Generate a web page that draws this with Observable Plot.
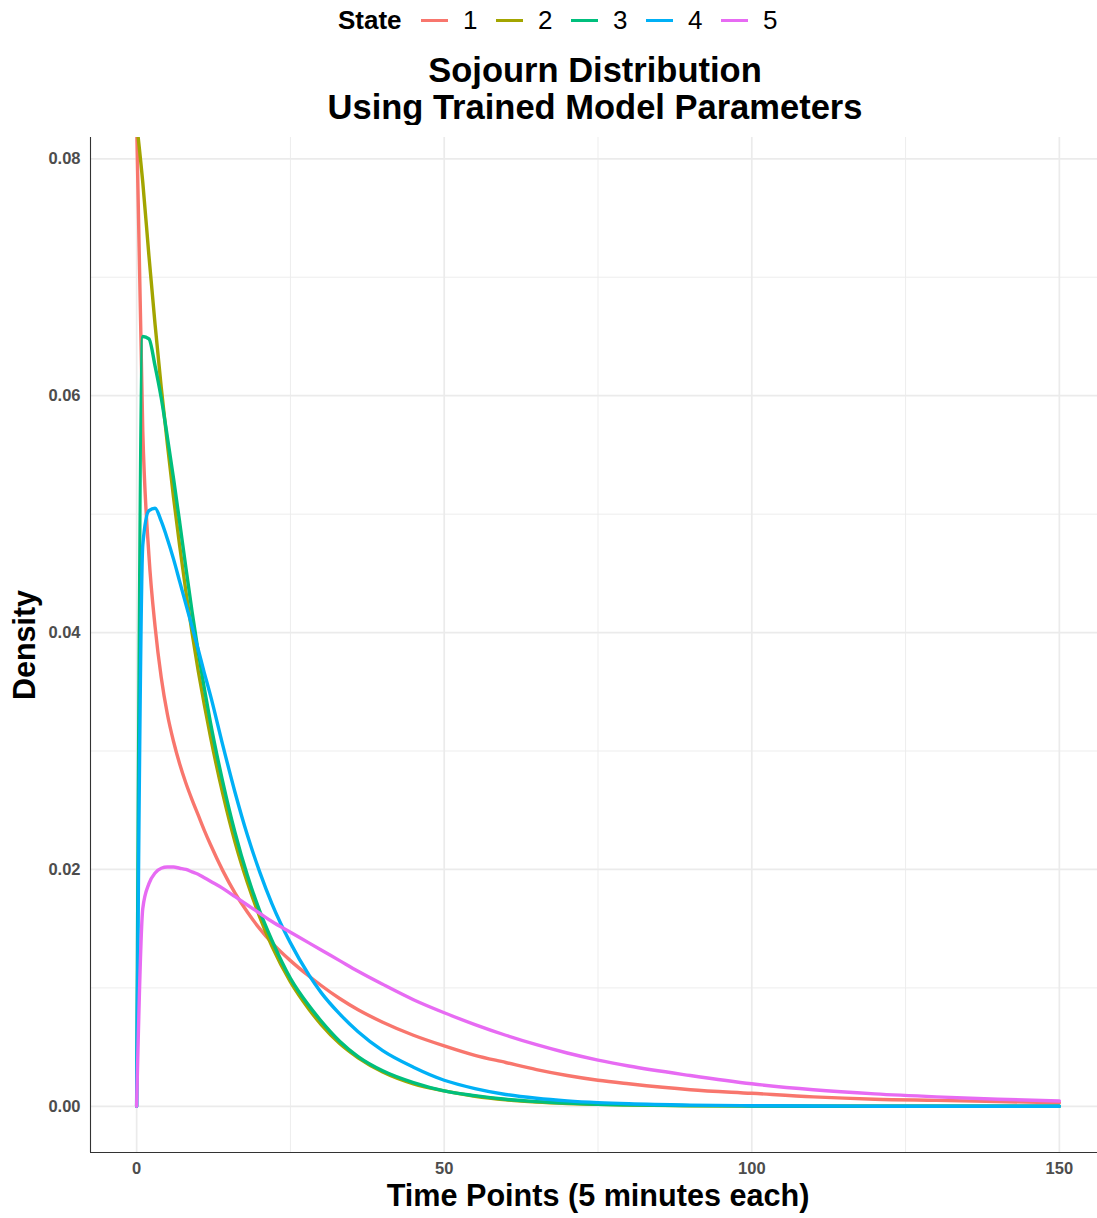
<!DOCTYPE html>
<html>
<head>
<meta charset="utf-8">
<script src="https://cdn.jsdelivr.net/npm/d3@7"></script>
<script src="https://cdn.jsdelivr.net/npm/@observablehq/plot@0.6"></script>
<style>
  html, body { margin: 0; padding: 0; background: #fff; overflow: hidden; }
  body { font-family: "Liberation Sans", Arial, Helvetica, sans-serif; }
  #wrap { position: relative; width: 1097px; height: 1218px; overflow: hidden; }
  #legend { position: absolute; left: 0; top: 0; width: 1097px; height: 40px; }
  .lg-title { position: absolute; top: 7px; font-size: 26px; line-height: 26px; font-weight: bold; color: #000; }
  .lg-key { position: absolute; top: 18.5px; width: 27px; height: 3.5px; }
  .lg-lab { position: absolute; top: 7px; font-size: 26px; line-height: 26px; color: #000; }
  #title { position: absolute; left: 0; top: 51.5px; width: 1190px; text-align: center;
           font-size: 34.5px; line-height: 37px; font-weight: bold; color: #000; }
  #chart { position: absolute; left: 0; top: 125px; width: 1105px; }
  #chart svg { overflow: visible; max-width: none !important; width: 1105px; height: 1093px; }
</style>
</head>
<body>
<div id="wrap">
  <div id="legend"></div>
  <div id="title"></div>
  <div id="chart"></div>
</div>
<script>
// ---- data ----
const titleLines = ["Sojourn Distribution", "Using Trained Model Parameters"];
const legendTitle = "State";
const states = ["1", "2", "3", "4", "5"];
const colors = ["#F8766D", "#A3A500", "#00BF7D", "#00B0F6", "#E76BF3"];
const xLabel = "Time Points (5 minutes each)";
const yLabel = "Density";
const xTicks = [0, 50, 100, 150];
const xMinor = [25, 75, 125];
const yTicks = [0, 0.02, 0.04, 0.06, 0.08];
const yMinor = [0.01, 0.03, 0.05, 0.07];

const timePoints = [0, 1, 2, 3, 4, 5, 6, 7, 8, 9, 10, 11, 12, 14, 16, 18, 20, 22, 25, 28, 30, 33, 36, 40, 45, 50, 55, 60, 65, 70, 75, 80, 90, 100, 110, 120, 130, 140, 150];

const state1 = [0.083, 0.057, 0.0465, 0.0405, 0.0362, 0.0331, 0.0308, 0.0289, 0.0273, 0.0259, 0.0246, 0.0233, 0.0221, 0.0199, 0.0180, 0.0164, 0.0150, 0.0138, 0.0123, 0.0110, 0.0102, 0.0091, 0.00815, 0.0071, 0.0060, 0.0051, 0.0043, 0.0037, 0.0031, 0.0026, 0.0022, 0.0019, 0.0014, 0.0011, 0.0008, 0.0006, 0.0005, 0.0004, 0.0003];
const state2 = [0.083, 0.078, 0.0718, 0.066, 0.0607, 0.0559, 0.0514, 0.0473, 0.0435, 0.0400, 0.0368, 0.0339, 0.0312, 0.0264, 0.0223, 0.0189, 0.0160, 0.0135, 0.0105, 0.0082, 0.0069, 0.0053, 0.0041, 0.0029, 0.0019, 0.0013, 0.00085, 0.00055, 0.00036, 0.00024, 0.00016, 0.0001, 0.00005, 0.00002, 0.00001, 0, 0, 0, 0];
const state3 = [0, 0.065, 0.0648, 0.0625, 0.0598, 0.0565, 0.0530, 0.0493, 0.0455, 0.0418, 0.0384, 0.0353, 0.0324, 0.0274, 0.0231, 0.0195, 0.0165, 0.0140, 0.0108, 0.0085, 0.0072, 0.0055, 0.0042, 0.0030, 0.0020, 0.0013, 0.0009, 0.0006, 0.0004, 0.00027, 0.00018, 0.00012, 0.00006, 0.00003, 0.00001, 0, 0, 0, 0];
const state4 = [0, 0.0474, 0.0503, 0.0505, 0.0494, 0.0479, 0.0462, 0.0443, 0.0424, 0.0405, 0.0386, 0.0366, 0.0347, 0.0305, 0.0265, 0.0229, 0.0198, 0.0171, 0.0138, 0.0111, 0.0096, 0.0078, 0.0063, 0.0047, 0.0033, 0.0022, 0.0015, 0.0010, 0.00068, 0.00046, 0.00031, 0.00021, 0.0001, 0.00005, 0.00002, 0.00001, 0, 0, 0];
const state5 = [0, 0.0167, 0.0188, 0.0197, 0.0201, 0.0202, 0.0202, 0.0201, 0.0200, 0.0198, 0.0196, 0.0193, 0.0190, 0.0184, 0.0177, 0.0170, 0.0163, 0.0156, 0.0147, 0.0138, 0.0132, 0.0123, 0.0114, 0.0103, 0.0090, 0.0079, 0.0069, 0.0060, 0.0052, 0.0045, 0.0039, 0.0034, 0.0026, 0.0019, 0.0014, 0.00105, 0.0008, 0.0006, 0.00045];

const series = [state1, state2, state3, state4, state5];
const rows = [];
series.forEach((vals, si) => {
  vals.forEach((v, i) => rows.push({ t: timePoints[i], density: v, state: states[si] }));
});

// ---- legend (HTML) ----
const legend = document.getElementById("legend");
const lt = document.createElement("div");
lt.className = "lg-title"; lt.style.left = "338px"; lt.textContent = legendTitle;
legend.appendChild(lt);
states.forEach((s, i) => {
  const k = document.createElement("div");
  k.className = "lg-key"; k.style.left = (421 + 75 * i) + "px"; k.style.background = colors[i];
  legend.appendChild(k);
  const l = document.createElement("div");
  l.className = "lg-lab"; l.style.left = (463 + 75 * i) + "px"; l.textContent = s;
  legend.appendChild(l);
});

// ---- title ----
const t = document.getElementById("title");
titleLines.forEach(line => { const d = document.createElement("div"); d.textContent = line; t.appendChild(d); });

// ---- chart ----
const xDomain = [-7.5, 157.5];
const yDomain = [-0.0039, 0.0818];

const chart = Plot.plot({
  width: 1105,
  height: 1093,
  marginTop: 12,
  marginBottom: 66,
  marginLeft: 90,
  marginRight: 0,
  style: { fontFamily: "'Liberation Sans', Arial, Helvetica, sans-serif", background: "#fff", maxWidth: "none" },
  x: { domain: xDomain, label: null },
  y: { domain: yDomain, label: null },
  color: { domain: states, range: colors },
  marks: [
    Plot.gridX(xMinor, { stroke: "#ebebeb", strokeOpacity: 1, strokeWidth: 0.9 }),
    Plot.gridY(yMinor, { stroke: "#ebebeb", strokeOpacity: 1, strokeWidth: 0.9 }),
    Plot.gridX(xTicks, { stroke: "#ebebeb", strokeOpacity: 1, strokeWidth: 1.7 }),
    Plot.gridY(yTicks, { stroke: "#ebebeb", strokeOpacity: 1, strokeWidth: 1.7 }),
    Plot.line(rows, { x: "t", y: "density", z: "state", stroke: "state", strokeWidth: 3.4, curve: "monotone-x", clip: true, strokeLinejoin: "round" }),
    Plot.ruleX([xDomain[0]], { stroke: "#333", strokeWidth: 1.1 }),
    Plot.ruleY([yDomain[0]], { stroke: "#333", strokeWidth: 1.1 }),
    Plot.axisX(xTicks, { tickSize: 0, tickPadding: 10, fontSize: 16.5, fontWeight: "bold", fill: "#4d4d4d", label: null }),
    Plot.axisY(yTicks, { tickSize: 0, tickPadding: 10, fontSize: 16.5, fontWeight: "bold", fill: "#4d4d4d", tickFormat: d3.format(".2f"), label: null }),
    Plot.text([xLabel], { frameAnchor: "bottom", dy: 44, text: d => d, textAnchor: "middle", lineAnchor: "middle", fontSize: 30.6, fontWeight: "bold", fill: "#000" }),
    Plot.text([yLabel], { frameAnchor: "left", dx: -65, rotate: -90, text: d => d, textAnchor: "middle", lineAnchor: "middle", fontSize: 30.5, fontWeight: "bold", fill: "#000" })
  ]
});
document.getElementById("chart").appendChild(chart);
</script>
</body>
</html>
